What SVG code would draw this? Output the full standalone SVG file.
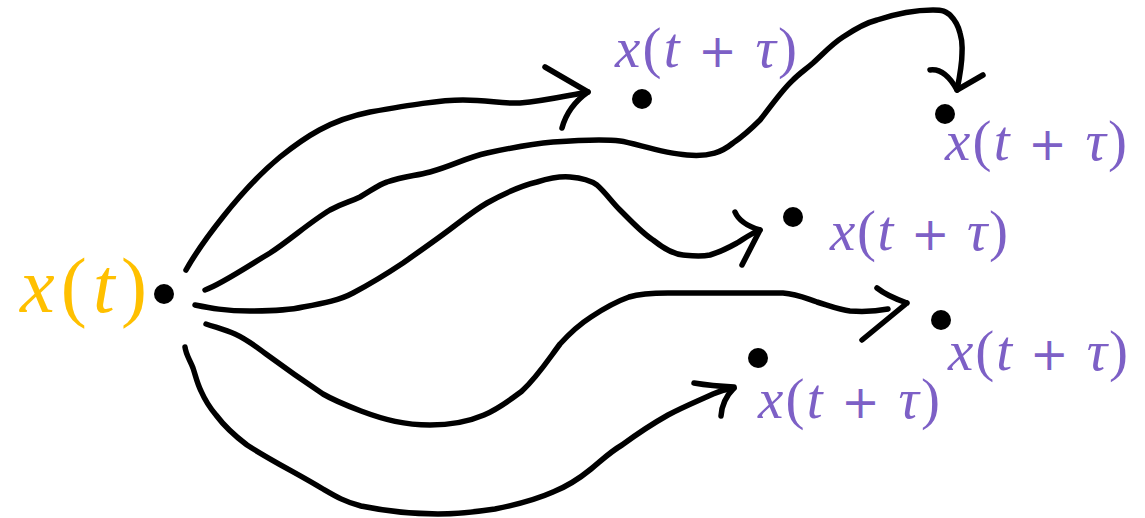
<svg xmlns="http://www.w3.org/2000/svg" width="1145" height="518" viewBox="0 0 1145 518">
<style>
.c{fill:none;stroke:#000;stroke-width:5.5;stroke-linecap:round;stroke-linejoin:round}
.dot{fill:#000}
.lbl{font-family:"Liberation Serif","DejaVu Serif",serif;font-size:57px;fill:#7D60C6}
.src{font-family:"Liberation Serif","DejaVu Serif",serif;font-size:78px;fill:#FFC000}
.i{font-style:italic}
.p{font-family:"DejaVu Sans",sans-serif;font-size:46px}
</style>
<rect width="1145" height="518" fill="#fff"/>
<g id="connectors">
<path class="c" d="M186,270 C200,245 240,190 280,157 C305,137 330,120 370,112 C410,105 440,100 463,100 C490,100 500,104 520,103 C545,101 565,96 588,92"/>
<path class="c" d="M545,67 L588,92 M562,128 Q568,106 588,92"/>
<path class="c" d="M205,290 C220,285 250,265 270,253 C290,240 310,222 330,210 C345,202 350,202 360,197 C372,190 380,184 387,182 C405,176 415,176 430,172 C455,165 465,158 487,153 C510,148 530,144 553,142 C580,140 605,139 620,141 C635,143 660,153 687,155 C710,157 722,152 733,143 C745,135 750,130 760,120 C772,105 782,90 793,80 C800,73 805,70 813,63 C825,52 832,44 843,37 C855,29 865,23 877,20 C895,14 915,10 933,10 C945,10 946,12 950,15 C955,20 958,25 960,33 C963,43 962,48 962,53 C962,65 960,75 957,90"/>
<path class="c" d="M930,70 Q945,68 957,90 M983,75 L957,90"/>
<path class="c" d="M195,305 C210,308 225,311 250,311 C275,311 290,310 303,307 C325,303 340,300 353,293 C370,284 385,275 403,263 C420,251 440,237 453,227 C465,218 475,210 487,203 C505,193 520,186 537,182 C550,178 560,176 570,177 C582,178 590,180 597,185 C605,192 612,202 620,210 C632,222 642,233 653,240 C663,248 672,254 683,255 C693,256 700,257 710,255 C720,252 728,248 737,243 C745,238 752,233 760,230"/>
<path class="c" d="M735,212 Q740,224 760,230 M742,265 L760,230"/>
<path class="c" d="M206,324 C218,328 226,330 235,334 C248,340 255,346 266,354 C285,368 305,382 323,394 C335,401 348,406 361,411 C385,420 405,425 430,425 C450,425 470,421 484,415 C500,408 510,400 522,391 C538,376 548,360 560,344 C570,333 580,324 591,317 C603,309 615,302 629,297 C642,293 655,293 668,293 L783,293 C797,294 805,298 817,302 C830,306 840,310 850,311 C865,312 878,311 888,309"/>
<path class="c" d="M877,288 Q887,296 907,303 M862,340 L907,303"/>
<path class="c" d="M185,347 C186,355 190,360 193,368 C196,377 197,383 201,391 C205,400 210,408 216,415 C225,427 235,436 247,445 C270,460 300,475 323,489 C335,496 345,502 361,506 C385,511 410,514 438,514 C458,514 475,512 495,509 C515,505 535,500 553,492 C568,486 580,478 591,469 C602,460 610,452 622,445 C637,434 652,424 668,415 C683,407 700,400 713,394 C720,391 727,389 734,388"/>
<path class="c" d="M694,383 Q712,386 734,387 M721,416 Q722,400 734,388"/>
</g>
<g id="source">
<circle class="dot" cx="164" cy="294" r="10"/>
<text class="src" x="20" y="312" textLength="127" lengthAdjust="spacing"><tspan class="i">x</tspan>(<tspan class="i">t</tspan>)</text>
</g>
<g id="target1">
<circle class="dot" cx="642" cy="99" r="10"/>
<text class="lbl" x="615" y="67" textLength="182" lengthAdjust="spacing"><tspan class="i">x</tspan>(<tspan class="i">t</tspan> <tspan class="p">+</tspan> <tspan class="i">τ</tspan>)</text>
</g>
<g id="target2">
<circle class="dot" cx="945" cy="114" r="10"/>
<text class="lbl" x="945" y="160" textLength="182" lengthAdjust="spacing"><tspan class="i">x</tspan>(<tspan class="i">t</tspan> <tspan class="p">+</tspan> <tspan class="i">τ</tspan>)</text>
</g>
<g id="target3">
<circle class="dot" cx="793" cy="217" r="10"/>
<text class="lbl" x="830" y="250" textLength="178" lengthAdjust="spacing"><tspan class="i">x</tspan>(<tspan class="i">t</tspan> <tspan class="p">+</tspan> <tspan class="i">τ</tspan>)</text>
</g>
<g id="target4">
<circle class="dot" cx="941" cy="320" r="10"/>
<text class="lbl" x="948" y="370" textLength="180" lengthAdjust="spacing"><tspan class="i">x</tspan>(<tspan class="i">t</tspan> <tspan class="p">+</tspan> <tspan class="i">τ</tspan>)</text>
</g>
<g id="target5">
<circle class="dot" cx="758" cy="358" r="10"/>
<text class="lbl" x="758" y="418" textLength="182" lengthAdjust="spacing"><tspan class="i">x</tspan>(<tspan class="i">t</tspan> <tspan class="p">+</tspan> <tspan class="i">τ</tspan>)</text>
</g>
</svg>
